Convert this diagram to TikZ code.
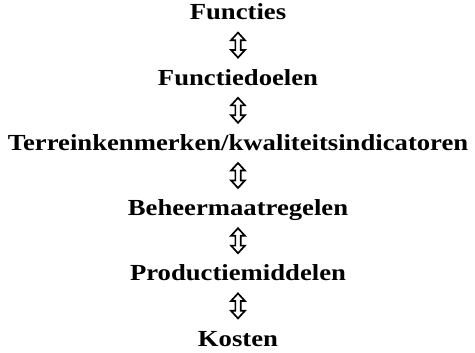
\documentclass[tikz,border=0pt]{standalone}
\usepackage{fontspec}
\setmainfont{Liberation Serif}[FakeStretch=1.16]
\usetikzlibrary{calc,shapes.arrows}
\definecolor{ArrowClr}{rgb}{0,0,0}

\begin{document}
\begin{tikzpicture}[x=1pt,y=1pt]
\tikzset{level/.style={font=\fontsize{23}{27}\selectfont\bfseries,inner sep=0pt,text height=15pt,text depth=0pt,anchor=base}}
\tikzset{updown/.style={double arrow,draw=ArrowClr,line width=1.7pt,rotate=90,minimum height=25pt,inner sep=1.8pt,double arrow head extend=4.3pt,double arrow tip angle=85}}
\useasboundingbox (0,0) rectangle (475,-353);

\node[level] (L1) at (238,-20) {Functies};
\node[level] (L2) at (238,-85.2) {Functiedoelen};
\node[level] (L3) at (238,-150.4) {Terreinkenmerken/kwaliteitsindicatoren};
\node[level] (L4) at (238,-215.6) {Beheermaatregelen};
\node[level] (L5) at (238,-280.8) {Productiemiddelen};
\node[level] (L6) at (238,-346) {Kosten};

\node[updown] (A1) at ($(L1.south)!.5!(L2.north)$) {};
\node[updown] (A2) at ($(L2.south)!.5!(L3.north)$) {};
\node[updown] (A3) at ($(L3.south)!.5!(L4.north)$) {};
\node[updown] (A4) at ($(L4.south)!.5!(L5.north)$) {};
\node[updown] (A5) at ($(L5.south)!.5!(L6.north)$) {};

\end{tikzpicture}
\end{document}
